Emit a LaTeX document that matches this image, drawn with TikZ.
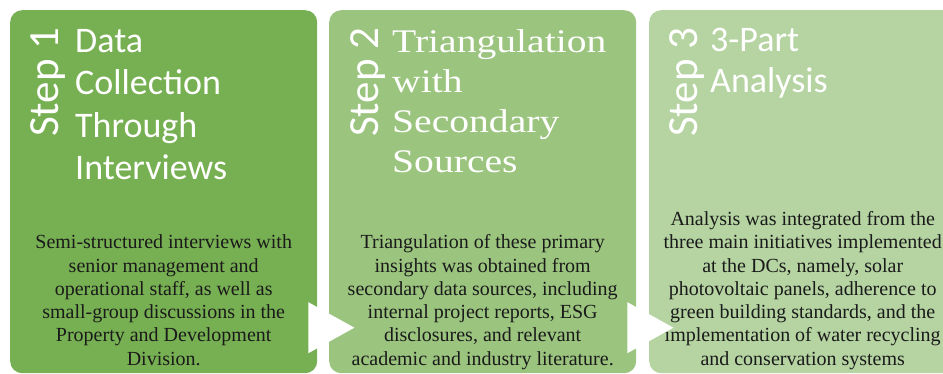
\documentclass[tikz,border=0pt]{standalone}
\usepackage{fontspec}
\setmainfont{Liberation Serif}
\newfontfamily\carlito{Carlito}
\newfontfamily\ttlserif[FakeStretch=1.2]{Liberation Serif}
\usetikzlibrary{calc}

\definecolor{gA}{HTML}{77B052}
\definecolor{gB}{HTML}{9BC47F}
\definecolor{gC}{HTML}{B5D4A2}
\definecolor{bodyink}{HTML}{1A1A1A}

\tikzset{
  panel/.style={rectangle, rounded corners=12pt, draw=none, anchor=north west,
    minimum width=307pt, minimum height=363pt, inner sep=0pt},
  steplabel/.style={rotate=90, anchor=base west, inner sep=0pt, text=white,
    font=\carlito\fontsize{43}{50}\selectfont},
  % multi-line titles are placed by the baseline of their last line
  titlesans/.style={anchor=base west, inner sep=0pt, text=white, align=left,
    font=\carlito\fontsize{36}{42.5}\selectfont},
  titleserif/.style={anchor=base west, inner sep=0pt, text=white, align=left,
    font=\ttlserif\fontsize{33}{40.3}\selectfont},
  bodytext/.style={anchor=south, inner sep=0pt, text=bodyink, align=center,
    font=\fontsize{20}{23.3}\selectfont},
  arrowhead/.style={fill=white, draw=none}
}

\begin{document}
\begin{tikzpicture}[x=1pt, y=-1pt]
\useasboundingbox (0,0) rectangle (943,374);

% three step panels
\node[panel, fill=gA] (p1) at (10,10) {};
\node[panel, fill=gB] (p2) at (329,10) {};
\node[panel, fill=gC] (p3) at (649,10) {};

% vertical step labels
\node[steplabel] (s1) at ($(p1.north west)+(48,127)$) {Step 1};
\node[steplabel] (s2) at ($(p2.north west)+(49,127)$) {Step 2};
\node[steplabel] (s3) at ($(p3.north west)+(48,127)$) {Step 3};

% step titles
\node[titlesans] (t1) at ($(p1.north west)+(65,170)$)
  {Data\\Collection\\Through\\Interviews};
\node[titleserif] (t2) at ($(p2.north west)+(63,163)$)
  {Triangulation\\with\\Secondary\\Sources};
\node[titlesans, font=\carlito\fontsize{36}{41}\selectfont] (t3)
  at ($(p3.north west)+(61,83)$) {3-Part\\Analysis};

% step descriptions
\node[bodytext] (b1) at ($(p1.south)+(0,-1)$)
  {Semi-structured interviews with\\senior management and\\operational staff, as well as\\small-group discussions in the\\Property and Development\\Division.\strut};
\node[bodytext] (b2) at ($(p2.south)+(0,-1)$)
  {Triangulation of these primary\\insights was obtained from\\secondary data sources, including\\internal project reports, ESG\\disclosures, and relevant\\academic and industry literature.\strut};
\node[bodytext] (b3) at ($(p3.south)+(0,-1)$)
  {Analysis was integrated from the\\three main initiatives implemented\\at the DCs, namely, solar\\photovoltaic panels, adherence to\\green building standards, and the\\implementation of water recycling\\and conservation systems\strut};

% arrowheads between the panels
\coordinate (a1) at ($(p1.east)+(-9,136)$);
\coordinate (a2) at ($(p2.east)+(-9,136)$);
\fill[arrowhead] ($(a1)+(0,-25.5)$) -- ($(a1)+(46,0)$) -- ($(a1)+(0,25.5)$) -- cycle;
\fill[arrowhead] ($(a2)+(0,-25.5)$) -- ($(a2)+(46,0)$) -- ($(a2)+(0,25.5)$) -- cycle;
\end{tikzpicture}
\end{document}
